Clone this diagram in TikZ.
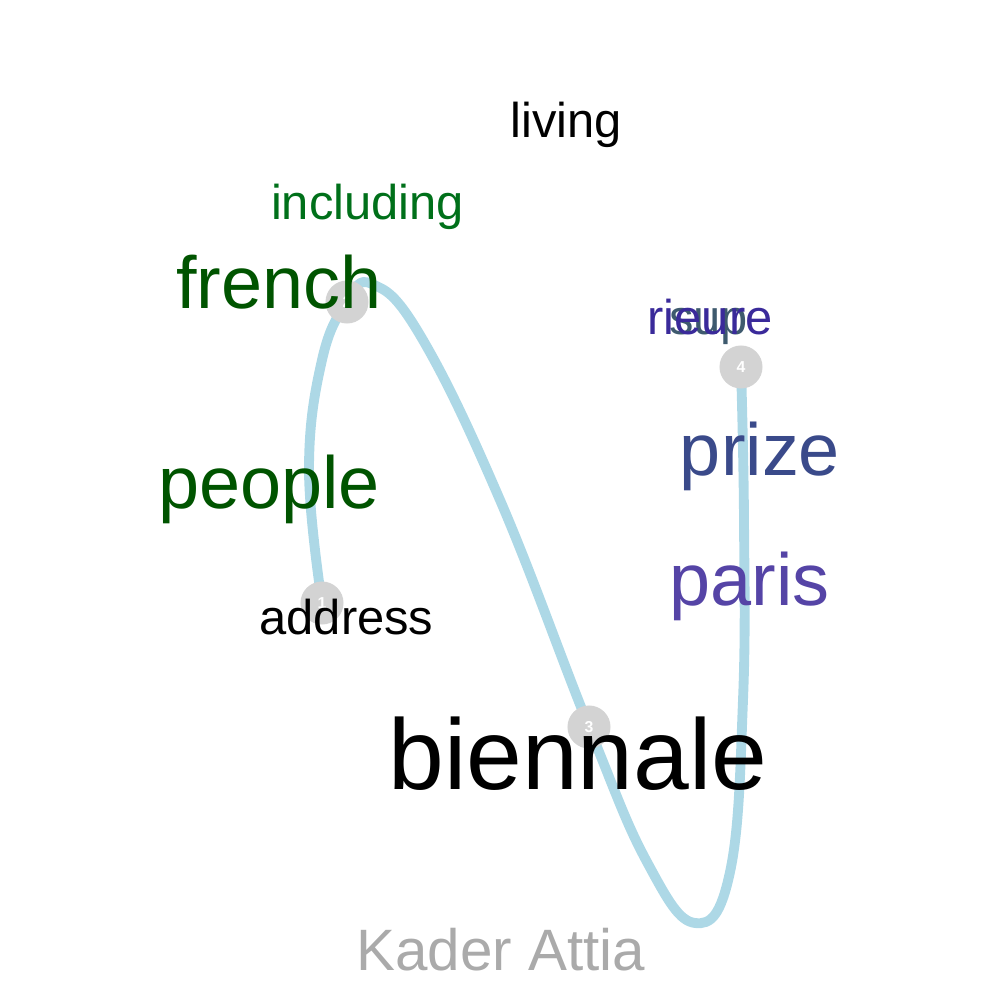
\documentclass[tikz,border=0pt]{standalone}
\usepackage{fontspec}
\setmainfont{Liberation Sans}
\usepackage{xcolor}
\definecolor{routeblue}{HTML}{ADD8E6}
\definecolor{stopgray}{HTML}{D3D3D3}
\definecolor{leafgreen}{HTML}{00701A}
\definecolor{darkgreen}{HTML}{005400}
\definecolor{prizeblue}{HTML}{3A4A8A}
\definecolor{parispurple}{HTML}{5544A6}
\definecolor{deepindigo}{HTML}{3A2A9A}
\definecolor{slategray}{HTML}{3E5A6E}
\definecolor{titlegray}{HTML}{AAAAAA}

\begin{document}
\begin{tikzpicture}[x=0.01cm, y=-0.01cm, every node/.style={inner sep=0pt, outer sep=0pt},
  smallword/.style={anchor=base, font=\fontsize{13.9}{14}\selectfont},
  midword/.style={anchor=base, font=\fontsize{21}{21}\selectfont},
  bigword/.style={anchor=base, font=\fontsize{28.5}{29}\selectfont},
  titleword/.style={anchor=base, font=\fontsize{16.6}{17}\selectfont, text=titlegray},
  stop/.style={circle, fill=stopgray, minimum size=0.43cm, text=white, font=\fontsize{4.5}{5}\selectfont\bfseries},
  route/.style={draw=routeblue, line width=2.8pt, line cap=round}]
  \useasboundingbox (0,0) rectangle (1000,1000);
  % stops along the route
  \coordinate (p1) at (322,603);
  \coordinate (p2) at (347,302);
  \coordinate (p3) at (589,727);
  \coordinate (p4) at (741,367);
  \draw[route] plot[smooth, tension=0.7] coordinates {(p1) (309,470) (322,360) (p2) (372,284) (420,335) (500,500) (p3) (647,862) (695,923) (730,872) (743,700) (744,520) (p4)};
  \node[stop] (s1) at (p1) {1};
  \node[stop] (s2) at (p2) {2};
  \node[stop] (s3) at (p3) {3};
  \node[stop] (s4) at (p4) {4};
  % words
  \node[smallword] (living) at (566,137) {living};
  \node[smallword, text=leafgreen] (including) at (367.5,219) {including};
  \node[midword, text=darkgreen] (french) at (279,308) {french};
  \node[midword, text=darkgreen] (people) at (269,508) {people};
  \node[smallword] (address) at (346.5,634) {address};
  \node[smallword, text=slategray] (sup) at (708.5,334) {sup};
  \node[smallword, text=deepindigo] (rieure) at (710,334) {rieure};
  \node[midword, text=prizeblue] (prize) at (760,475) {prize};
  \node[midword, text=parispurple] (paris) at (749.5,605) {paris};
  \node[bigword] (biennale) at (578,789) {biennale};
  \node[titleword] (title) at (501,970) {Kader Attia};
\end{tikzpicture}
\end{document}
